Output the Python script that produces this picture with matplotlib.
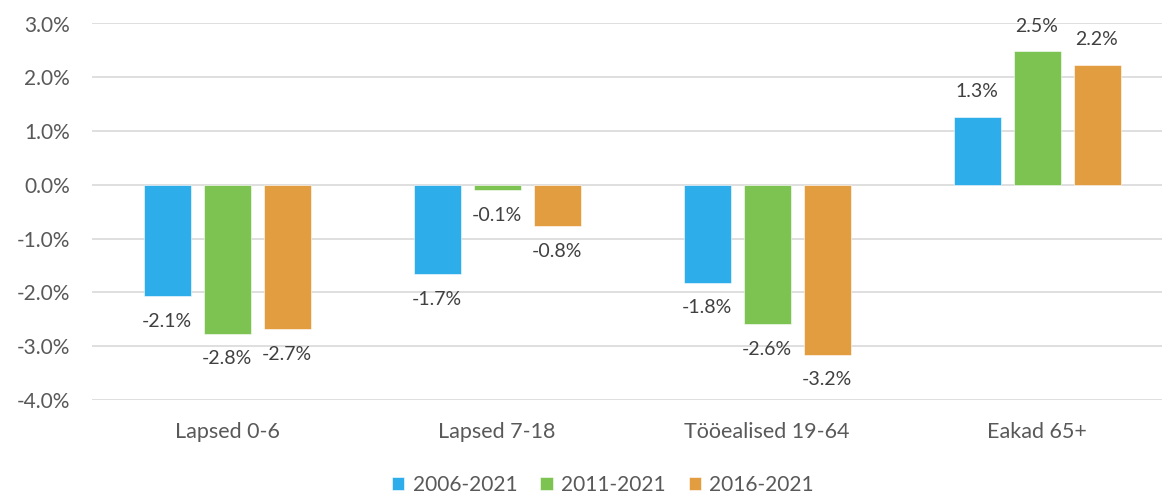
import matplotlib
matplotlib.use("Agg")
import matplotlib.pyplot as plt
import numpy as np

plt.rcParams["font.family"] = ["Lato", "DejaVu Sans"]

categories = ["Lapsed 0-6", "Lapsed 7-18", "Tööealised 19-64", "Eakad 65+"]
series_names = ["2006-2021", "2011-2021", "2016-2021"]
v_2006 = [-2.07, -1.66, -1.82, 1.27]
v_2011 = [-2.77, -0.10, -2.59, 2.48]
v_2016 = [-2.68, -0.77, -3.16, 2.23]
labels_2006 = ["-2.1%", "-1.7%", "-1.8%", "1.3%"]
labels_2011 = ["-2.8%", "-0.1%", "-2.6%", "2.5%"]
labels_2016 = ["-2.7%", "-0.8%", "-3.2%", "2.2%"]
yticks = [3, 2, 1, 0, -1, -2, -3, -4]

COLORS = ["#2EADEB", "#7DC352", "#E29D40"]
TEXT = "#595959"
GRID = "#D9D9D9"

W, H = 1162, 494
fig = plt.figure(figsize=(W / 100, H / 100), dpi=100)
left, right = 92 / W, 1172 / W
bottom, top = (H - 400) / H, (H - 23.5) / H
ax = fig.add_axes([left, bottom, right - left, top - bottom])

x = np.arange(len(categories))
step = 60 / 270
width = 47 / 270
all_vals = [v_2006, v_2011, v_2016]
all_labels = [labels_2006, labels_2011, labels_2016]

for i, (vals, labs, name) in enumerate(zip(all_vals, all_labels, series_names)):
    xs = x + (i - 1) * step
    ax.bar(xs, vals, width=width, color=COLORS[i], label=name, zorder=3,
           edgecolor="white", linewidth=0.4)
    for xi, v, lab in zip(xs, vals, labs):
        off = 18 if v > 0 else -18
        ax.annotate(lab, (xi, v), textcoords="offset points", xytext=(0, off),
                    ha="center", va="center", fontsize=14, color="#404040")

ax.set_xlim(-0.5, 3.5)
ax.set_ylim(-4, 3)
ax.set_yticks(yticks)
ax.set_yticklabels([f"{t:.1f}%" for t in yticks])
ax.set_xticks(x)
ax.set_xticklabels(categories)
ax.tick_params(axis="y", length=0, pad=16, labelsize=15, labelcolor=TEXT)
ax.tick_params(axis="x", length=0, pad=16, labelsize=15.5, labelcolor=TEXT)
ax.grid(axis="y", color=GRID, lw=1.2, zorder=0)
for s in ax.spines.values():
    s.set_visible(False)

fig.legend(loc="center", bbox_to_anchor=(603 / W, 1 - 485 / H), ncol=3,
           frameon=False, fontsize=15, labelcolor=TEXT, handlelength=0.6,
           handleheight=0.6, handletextpad=0.4, columnspacing=1.1)

fig.savefig("out.png", dpi=100)
